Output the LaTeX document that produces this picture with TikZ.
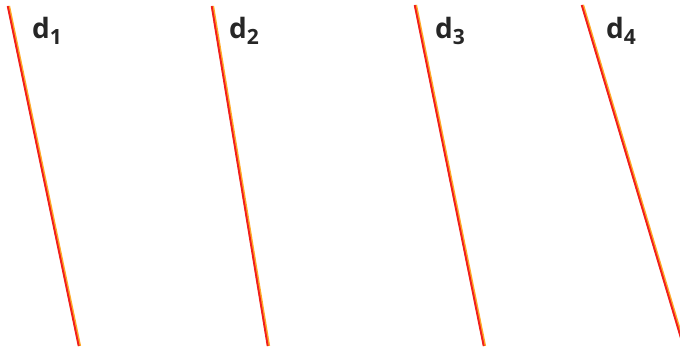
\documentclass[tikz,border=0pt]{standalone}
\usepackage{fontspec}
\setmainfont{Open Sans}
\definecolor{linered}{RGB}{240,30,30}
\definecolor{lineorange}{RGB}{255,170,40}
\tikzset{
  redline/.style={line width=1.9pt, linered},
  glowline/.style={line width=3pt, lineorange},
  lbl/.style={font=\fontsize{28}{28}\selectfont\bfseries, text=black!85, inner sep=0pt}
}
\newcommand{\lab}[1]{d\raisebox{-6pt}{\fontsize{21}{21}\selectfont #1}}
\begin{document}
\begin{tikzpicture}[x=1pt,y=-1pt]
\useasboundingbox (0,0) rectangle (680,354);
\coordinate (a1) at (8,6);   \coordinate (b1) at (79,346);
\coordinate (a2) at (212,6); \coordinate (b2) at (268,346);
\coordinate (a3) at (415,5); \coordinate (b3) at (484,346);
\coordinate (a4) at (582,5); \coordinate (b4) at (686,354);
\foreach \i in {1,2,3,4}{
  \draw[glowline] ([xshift=0.6pt]a\i) -- ([xshift=0.6pt]b\i);
  \draw[redline] ([xshift=-0.3pt]a\i) -- ([xshift=-0.3pt]b\i);
}
\node[lbl] (l1) at (47,31) {\lab{1}};
\node[lbl] (l2) at (244,31) {\lab{2}};
\node[lbl] (l3) at (450,31) {\lab{3}};
\node[lbl] (l4) at (621,31) {\lab{4}};
\end{tikzpicture}
\end{document}
